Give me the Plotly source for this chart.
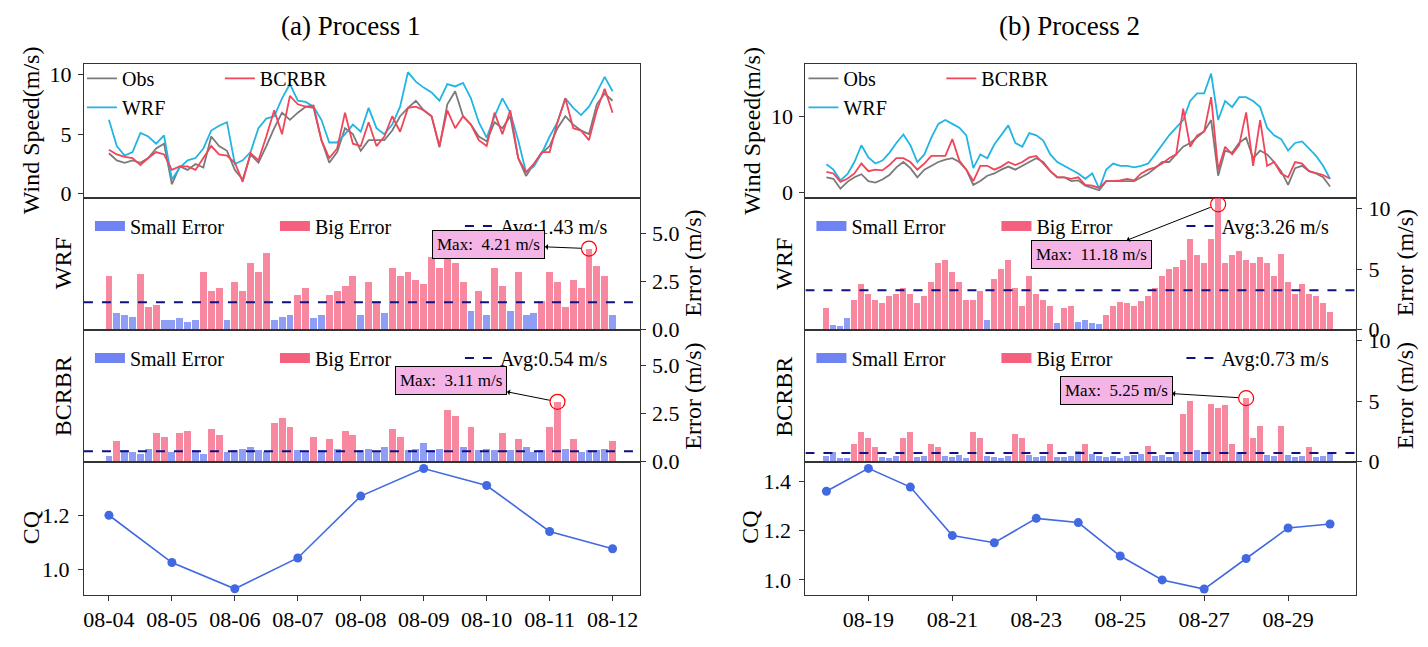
import plotly.graph_objects as go
import pandas as pd

FONT = "Liberation Serif"
# the page body has an 8px margin, so the figure is drawn 8px in from the top-left
OFF = 8
FIG_W, FIG_H = 1428 - 2 * OFF, 647 - 2 * OFF

# ---------------- Process 1: 08-04 .. 08-12, one value every 3 hours ----------------
p1_start = "2023-08-04"
p1_step_h = 3
p1_obs = [3.4, 2.8, 2.6, 2.8, 2.6, 3.0, 3.8, 4.2, 0.8,
          2.3, 2.0, 2.5, 2.2, 4.8, 4.0, 3.6, 2.0,
          1.2, 3.3, 2.6, 4.0, 5.5, 6.8, 6.2, 6.8,
          7.3, 7.2, 4.5, 2.6, 3.5, 5.5, 5.0, 3.6,
          4.5, 4.5, 4.5, 5.3, 6.5, 7.2, 7.8, 7.0,
          6.5, 3.9, 7.5, 8.6, 6.5, 5.8, 4.8, 4.4,
          6.0, 5.5, 6.5, 3.0, 1.5, 2.5, 3.4, 4.0,
          5.5, 6.5, 5.8, 5.3, 5.0, 7.5, 8.4, 7.8]
p1_wrf = [6.2, 4.0, 3.2, 3.5, 5.1, 4.8, 4.2, 4.9, 1.2,
          2.2, 2.8, 3.0, 3.8, 5.3, 5.7, 6.0, 2.5,
          2.8, 3.5, 5.5, 6.3, 6.5, 8.0, 9.2, 7.8,
          7.7, 7.3, 6.2, 4.3, 4.3, 5.0, 5.8, 5.2,
          7.2, 5.5, 5.0, 5.8, 7.3, 10.2, 9.4, 8.9,
          8.5, 7.8, 9.2, 9.0, 9.3, 8.0, 6.0, 4.7,
          6.5, 8.0, 6.8, 4.5, 1.8, 2.3, 3.4, 4.8,
          6.0, 8.0, 7.2, 6.6, 7.3, 8.5, 9.8, 8.6]
p1_bcrbr = [3.7, 3.3, 3.1, 3.0, 2.4, 3.0, 3.5, 3.3, 2.0,
            2.3, 2.3, 2.0, 3.0, 4.0, 3.3, 3.2, 2.6,
            1.0, 3.4, 2.8, 4.8, 7.0, 5.0, 8.2, 7.5,
            7.3, 7.4, 4.5, 3.0, 3.8, 6.8, 4.2, 4.0,
            6.0, 4.0, 4.8, 6.5, 5.2, 7.2, 7.3, 7.0,
            6.5, 4.0, 7.0, 5.5, 6.5, 5.8, 4.5, 4.0,
            6.8, 5.0, 7.0, 3.0, 1.8, 2.5, 3.5, 3.5,
            6.0, 8.0, 5.5, 5.3, 4.5, 7.0, 8.8, 6.8]
p1_err_wrf = [2.8, 0.9, 0.8, 0.7, 2.9, 1.2, 1.3, 0.5, 0.5,
              0.6, 0.4, 0.5, 3.0, 2.0, 2.2, 0.5, 2.5,
              2.0, 3.5, 3.0, 4.0, 0.5, 0.7, 0.8, 1.8,
              2.2, 0.6, 0.8, 1.8, 2.0, 2.3, 2.8, 0.8,
              2.5, 1.5, 0.9, 3.2, 2.8, 3.0, 2.6, 2.4,
              3.8, 3.2, 3.7, 3.5, 2.5, 1.0, 2.0, 0.8,
              3.2, 2.3, 1.0, 3.0, 0.8, 0.9, 1.5, 3.0,
              2.5, 1.2, 2.6, 2.2, 4.21, 3.3, 2.8, 0.8]
p1_err_bcrbr = [0.3, 1.1, 0.6, 0.5, 0.4, 0.7, 1.5, 1.3, 0.5,
                1.5, 1.6, 0.6, 0.4, 1.7, 1.4, 0.5, 0.6,
                0.7, 0.8, 0.6, 0.5, 2.0, 2.3, 1.8, 0.6,
                0.5, 1.3, 0.6, 1.2, 0.7, 1.6, 1.4, 0.6,
                0.7, 0.5, 0.8, 1.7, 1.3, 0.6, 0.7, 1.0,
                0.6, 0.7, 2.7, 2.4, 0.8, 1.8, 0.6, 0.7,
                0.6, 1.5, 0.6, 1.2, 0.8, 0.5, 0.6, 1.8,
                3.11, 0.7, 1.2, 0.5, 0.6, 0.6, 0.7, 1.1]
p1_avg = [1.43, 0.54]  # WRF, BCRBR
p1_cq_days = ["2023-08-04", "2023-08-05", "2023-08-06", "2023-08-07", "2023-08-08",
              "2023-08-09", "2023-08-10", "2023-08-11", "2023-08-12"]
p1_cq = [1.2, 1.025, 0.928, 1.042, 1.271, 1.373, 1.31, 1.14, 1.076]

# ---------------- Process 2: 08-18 .. 08-30, one value every 4 hours ----------------
p2_start = "2023-08-18"
p2_step_h = 4
p2_obs = [2.0, 1.8, 0.5, 1.4, 2.0, 2.4, 1.5,
          1.3, 1.7, 2.3, 3.3, 4.0, 3.2,
          2.0, 3.0, 3.5, 4.0, 4.3, 4.5,
          4.0, 3.0, 1.0, 1.5, 2.2, 2.5,
          3.0, 3.4, 3.0, 3.5, 4.0, 4.5,
          4.0, 2.8, 2.0, 2.0, 1.5, 1.6,
          0.9, 0.6, 0.3, 1.5, 1.5, 1.5,
          1.5, 1.5, 2.0, 2.5, 3.2, 4.0,
          4.0, 5.0, 6.0, 6.5, 7.2, 8.0,
          9.5, 2.2, 5.5, 5.2, 6.5, 7.2,
          4.5, 5.5, 5.0, 4.0, 2.8, 1.0,
          3.2, 3.5, 2.8, 2.5, 2.0, 0.8]
p2_wrf = [3.7, 3.0, 1.6, 2.4, 4.0, 6.2, 4.6,
          3.8, 4.2, 5.2, 6.5, 7.6, 6.2,
          4.0, 5.0, 7.2, 9.0, 9.5, 9.0,
          8.5, 7.5, 3.2, 5.0, 4.5, 6.3,
          7.5, 8.8, 6.5, 6.0, 7.8, 7.5,
          6.8, 5.0, 4.0, 3.5, 3.0, 2.5,
          1.8, 2.5, 0.5, 3.0, 3.8, 3.5,
          3.5, 3.3, 3.5, 3.8, 5.0, 6.3,
          7.5, 8.5, 9.5, 12.0, 13.0, 13.0,
          15.6, 9.5, 12.0, 11.2, 12.5, 12.5,
          12.0, 11.2, 8.5, 7.5, 7.0, 5.5,
          6.5, 6.7, 5.8, 4.8, 3.5, 1.8]
p2_bcrbr = [2.7, 2.5, 1.4, 1.8, 2.5, 3.8, 2.8,
            3.0, 2.9, 3.6, 4.5, 4.5, 4.0,
            3.0, 3.8, 4.8, 4.8, 4.8, 7.0,
            4.2, 3.0, 1.5, 3.5, 3.5, 3.0,
            3.4, 4.0, 3.6, 4.0, 4.6, 4.8,
            3.8, 2.8, 2.0, 2.0, 1.8, 2.0,
            1.0, 0.9, 0.6, 1.5, 1.5, 1.6,
            1.8, 1.6, 2.5, 3.0, 3.3, 3.8,
            4.5, 5.0, 11.0, 6.0, 7.5, 8.0,
            12.5, 3.0, 6.0, 5.0, 6.2, 10.5,
            3.5, 9.5, 3.5, 4.0, 2.5, 2.0,
            4.0, 3.8, 2.8, 2.5, 2.3, 1.8]
p2_err_wrf = [1.8, 0.4, 0.3, 1.0, 2.5, 3.8, 3.0,
              2.5, 2.2, 2.8, 3.0, 3.5, 3.0,
              2.2, 2.8, 4.0, 5.5, 5.8, 4.8,
              4.0, 2.5, 2.5, 3.2, 0.8, 4.2,
              5.0, 5.8, 3.5, 2.0, 4.5, 3.0,
              2.5, 2.0, 0.6, 1.8, 2.0, 0.7,
              0.8, 0.6, 0.5, 1.2, 2.0, 2.3,
              2.2, 2.0, 2.4, 2.8, 3.5, 4.5,
              5.0, 5.2, 5.8, 7.5, 6.2, 5.5,
              7.5, 11.18, 5.5, 6.2, 6.5, 5.8,
              5.5, 6.0, 5.5, 4.5, 6.3, 4.0,
              3.0, 3.8, 3.0, 2.8, 2.2, 1.5]
p2_err_bcrbr = [0.5, 0.8, 0.3, 0.3, 1.5, 2.5, 2.0,
                1.2, 0.4, 0.3, 0.5, 2.0, 2.5,
                0.4, 0.5, 1.5, 1.2, 0.5, 0.4,
                0.6, 0.3, 2.5, 2.0, 0.5, 0.4,
                0.3, 0.5, 2.3, 2.0, 0.6, 0.4,
                0.5, 1.5, 0.4, 0.4, 0.5, 0.9,
                1.5, 0.7, 0.5, 0.4, 0.5, 0.3,
                0.5, 0.6, 0.7, 1.3, 0.5, 0.6,
                0.4, 0.8, 4.0, 5.0, 1.0, 0.8,
                4.8, 4.5, 4.7, 1.5, 0.8, 5.25,
                2.0, 3.0, 0.6, 0.5, 3.0, 0.6,
                0.4, 0.5, 1.2, 0.4, 0.5, 0.8]
p2_avg = [3.26, 0.73]
p2_cq_days = ["2023-08-18", "2023-08-19", "2023-08-20", "2023-08-21", "2023-08-22",
              "2023-08-23", "2023-08-24", "2023-08-25", "2023-08-26", "2023-08-27",
              "2023-08-28", "2023-08-29", "2023-08-30"]
p2_cq = [1.36, 1.453, 1.377, 1.18, 1.151, 1.25, 1.233, 1.097, 1.0, 0.963, 1.087, 1.211, 1.227]

big_error_threshold = 1.0  # errors above this are drawn as "Big Error"

# Colours
OBS_C = "#7a7a7a"
WRF_C = "#22b5e3"
BCRBR_C = "#f0455a"
SMALL_C = "rgba(95,115,240,0.7)"
BIG_C = "rgba(245,85,120,0.7)"
SMALL_LEG = "#6f83f3"
BIG_LEG = "#f5607f"
AVG_C = "#101080"
CQ_C = "#4169e1"
BOX_C = "#f5b4e6"

# Panel frames in page pixels (left, right) and rows (top, bottom)
col_px = [(83, 639), (805, 1356)]
row_px = [(64, 201), (201, 336), (336, 471), (471, 607)]


def px_x(px):
    return (px - OFF) / FIG_W


def px_y(py):
    return 1 - (py - OFF) / FIG_H


def ax_name(n):
    return "x" if n == 1 else f"x{n}", "y" if n == 1 else f"y{n}"


def base_axis(**kw):
    d = dict(showline=True, linecolor="#333333", linewidth=1, mirror=True, showgrid=False,
             zeroline=False, ticks="outside", ticklen=5, tickcolor="#333333",
             tickfont=dict(family=FONT, size=22, color="black"))
    d.update(kw)
    return d


def legend_cfg(x, y, orientation="v", entrywidth=None):
    d = dict(x=x, y=y, xanchor="left", yanchor="top", orientation=orientation,
             bgcolor="rgba(0,0,0,0)", borderwidth=0, tracegroupgap=0,
             font=dict(family=FONT, size=20, color="black"))
    if entrywidth:
        d["entrywidth"] = entrywidth
        d["entrywidthmode"] = "pixels"
    return d


fig = go.Figure()
layout = {}
annotations = []


def add_column(c, title, start, step_h, obs, wrf, bcrbr, err_list, avg_list,
               cq_days, cq, day_px, first_day_px, x_ticks, wind_range, wind_dtick,
               err_range, err_dtick, err_fmt, cq_range, cq_ticks, box_offsets, cq_label_px):
    t = pd.date_range(start, periods=len(obs), freq=f"{step_h}h")
    x0_px, x1_px = col_px[c]
    day0 = pd.Timestamp(start)
    xr = [day0 - pd.Timedelta(days=(first_day_px - x0_px) / day_px),
          day0 + pd.Timedelta(days=(x1_px - first_day_px) / day_px)]
    base = 4 * c
    leg = [f"legend{base + i}" if base + i > 1 else "legend" for i in range(1, 5)]

    # ---- wind speed ----
    xa, ya = ax_name(base + 1)
    for name, vals, color, lg in [("Obs", obs, OBS_C, leg[0]), ("WRF", wrf, WRF_C, leg[0]),
                                   ("BCRBR", bcrbr, BCRBR_C, leg[1])]:
        fig.add_trace(go.Scatter(x=t, y=vals, mode="lines", name=name, legend=lg,
                                 line=dict(color=color, width=1.8), xaxis=xa, yaxis=ya))

    # ---- error panels ----
    width_ms = step_h * 3600 * 1000 * 0.88
    for i, (err, avg) in enumerate(zip(err_list, avg_list)):
        n = base + 2 + i
        xa, ya = ax_name(n)
        lg = leg[2 + i]
        small_t = [ti for ti, e in zip(t, err) if e <= big_error_threshold]
        small_e = [e for e in err if e <= big_error_threshold]
        big_t = [ti for ti, e in zip(t, err) if e > big_error_threshold]
        big_e = [e for e in err if e > big_error_threshold]
        fig.add_trace(go.Bar(x=small_t, y=small_e, showlegend=False,
                             marker=dict(color=SMALL_C, line=dict(width=0)), width=width_ms,
                             xaxis=xa, yaxis=ya))
        fig.add_trace(go.Bar(x=big_t, y=big_e, showlegend=False,
                             marker=dict(color=BIG_C, line=dict(width=0)), width=width_ms,
                             xaxis=xa, yaxis=ya))
        # legend-only entries drawn as wide patches
        for name, color in [("Small Error", SMALL_LEG), ("Big Error", BIG_LEG)]:
            fig.add_trace(go.Scatter(x=[None], y=[None], mode="lines", name=name, legend=lg,
                                     line=dict(color=color, width=16), xaxis=xa, yaxis=ya))
        fig.add_trace(go.Scatter(x=xr, y=[avg, avg], mode="lines", name=f"Avg:{avg:.2f} m/s",
                                 legend=lg, line=dict(color=AVG_C, width=2, dash="dash"),
                                 xaxis=xa, yaxis=ya))
        k = err.index(max(err))
        peak_y = min(err[k], err_range[1] * 0.95)
        fig.add_trace(go.Scatter(x=[t[k]], y=[peak_y], mode="markers", showlegend=False,
                                 marker=dict(symbol="circle-open", size=15, color="red",
                                             line=dict(width=1.2)),
                                 xaxis=xa, yaxis=ya))
        ax_off, ay_off = box_offsets[i]
        annotations.append(dict(
            x=t[k], y=peak_y, xref=xa, yref=ya, text=f"Max:  {max(err):.2f} m/s",
            showarrow=True, arrowside="start", arrowhead=2, arrowsize=1, arrowwidth=1,
            arrowcolor="black", ax=ax_off, ay=ay_off, standoff=8,
            bgcolor=BOX_C, bordercolor="black", borderwidth=1, borderpad=4,
            font=dict(family=FONT, size=17, color="black")))

    # ---- CQ ----
    xa, ya = ax_name(base + 4)
    fig.add_trace(go.Scatter(x=pd.to_datetime(cq_days), y=cq, mode="lines+markers",
                             showlegend=False, line=dict(color=CQ_C, width=1.6),
                             marker=dict(color=CQ_C, size=9), xaxis=xa, yaxis=ya))

    # ---- axes ----
    xdom = [px_x(x0_px), px_x(x1_px)]
    for r in range(4):
        n = base + 1 + r
        xkey = "xaxis" if n == 1 else f"xaxis{n}"
        ykey = "yaxis" if n == 1 else f"yaxis{n}"
        xa, ya = ax_name(n)
        ydom = [px_y(row_px[r][1]), px_y(row_px[r][0])]
        if r == 3:
            layout[xkey] = base_axis(domain=xdom, anchor=ya, type="date", range=xr,
                                     tickformat="%m-%d", **x_ticks)
        else:
            layout[xkey] = base_axis(domain=xdom, anchor=ya, type="date", range=xr,
                                     ticks="", showticklabels=False)
        if r == 0:
            layout[ykey] = base_axis(domain=ydom, anchor=xa, range=wind_range, dtick=wind_dtick,
                                     ticklabelstandoff=2)
        elif r in (1, 2):
            layout[ykey] = base_axis(domain=ydom, anchor=xa, side="right", range=err_range,
                                     dtick=err_dtick, tickformat=err_fmt, ticklabelstandoff=2)
        else:
            layout[ykey] = base_axis(domain=ydom, anchor=xa, range=cq_range,
                                     tickvals=cq_ticks, tickformat=".1f", ticklabelstandoff=4)

    # ---- legends ----
    layout[leg[0]] = legend_cfg(px_x(x0_px - 2), px_y(59))
    layout[leg[1]] = legend_cfg(px_x(x0_px + 136), px_y(59))
    layout[leg[2]] = legend_cfg(px_x(x0_px + 6), px_y(210), "h", 140)
    layout[leg[3]] = legend_cfg(px_x(x0_px + 6), px_y(345), "h", 140)

    # ---- texts ----
    def side_text(text, xp, yp, size=24):
        annotations.append(dict(text=text, x=px_x(xp), y=px_y(yp), xref="paper", yref="paper",
                                showarrow=False, textangle=-90, xanchor="center", yanchor="middle",
                                font=dict(family=FONT, size=size, color="black")))

    side_text("Wind Speed(m/s)", x0_px - 53, 132)
    side_text("WRF", x0_px - 21, 268)
    side_text("BCRBR", x0_px - 21, 404)
    side_text("CQ", cq_label_px, 538)
    side_text("Error (m/s)", x1_px + 54 if c == 0 else x1_px + 49, 268)
    side_text("Error (m/s)", x1_px + 54 if c == 0 else x1_px + 49, 404)
    annotations.append(dict(text=title, x=px_x((x0_px + x1_px) / 2 - 11), y=px_y(25),
                            xref="paper", yref="paper", showarrow=False,
                            xanchor="center", yanchor="middle",
                            font=dict(family=FONT, size=27, color="black")))


add_column(0, "(a) Process 1", p1_start, p1_step_h, p1_obs, p1_wrf, p1_bcrbr,
           [p1_err_wrf, p1_err_bcrbr], p1_avg, p1_cq_days, p1_cq,
           day_px=63, first_day_px=108, x_ticks=dict(dtick=86400000, tick0="2023-08-04"),
           wind_range=[-0.33, 10.9], wind_dtick=5, err_range=[0, 6.85], err_dtick=2.5,
           err_fmt=".1f", cq_range=[0.906, 1.398], cq_ticks=[1.0, 1.2],
           box_offsets=[(-100, -4), (-106, -21)], cq_label_px=30)

add_column(1, "(b) Process 2", p2_start, p2_step_h, p2_obs, p2_wrf, p2_bcrbr,
           [p2_err_wrf, p2_err_bcrbr], p2_avg, p2_cq_days, p2_cq,
           day_px=42, first_day_px=826, x_ticks=dict(dtick=2 * 86400000, tick0="2023-08-19"),
           wind_range=[-0.68, 16.88], wind_dtick=10, err_range=[0, 10.9], err_dtick=5,
           err_fmt="d", cq_range=[0.94, 1.48], cq_ticks=[1.0, 1.2, 1.4],
           box_offsets=[(-127, 50), (-130, -8)], cq_label_px=750)

fig.update_layout(
    width=FIG_W, height=FIG_H,
    margin=dict(l=0, r=0, t=0, b=0),
    plot_bgcolor="white", paper_bgcolor="white",
    barmode="overlay", bargap=0,
    font=dict(family=FONT, color="black"),
    annotations=annotations,
    **layout,
)

fig.write_html("out.html")
